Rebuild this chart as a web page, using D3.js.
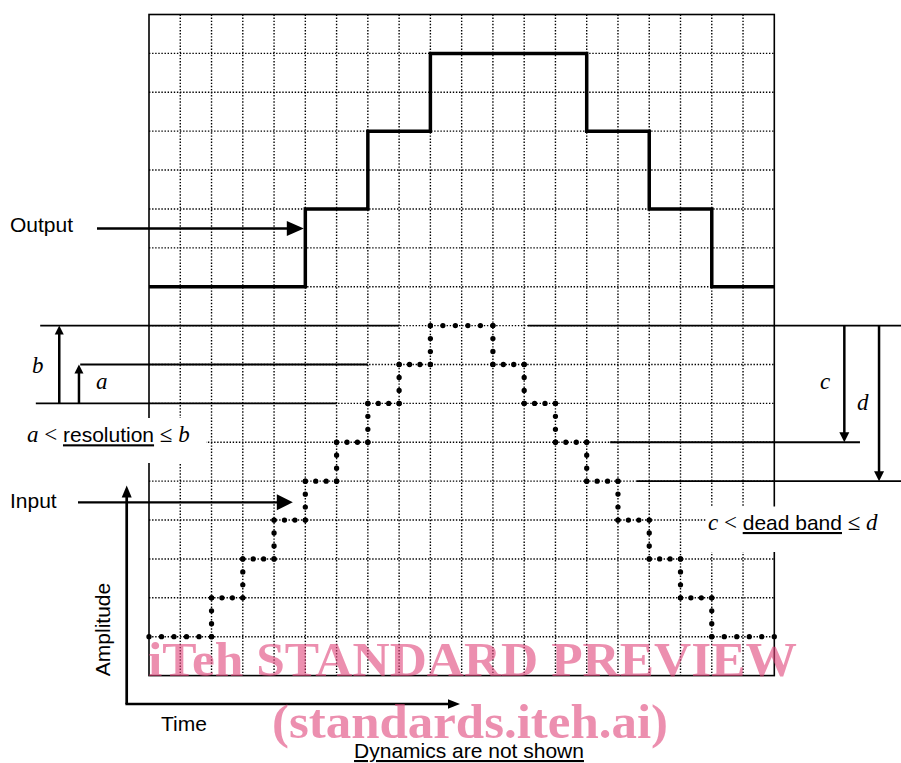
<!DOCTYPE html>
<html>
<head>
<meta charset="utf-8">
<script src="https://cdnjs.cloudflare.com/ajax/libs/d3/7.8.5/d3.min.js"></script>
<style>
body{margin:0;background:#fff;}
svg{display:block;}
.sans{font-family:"Liberation Sans",Arial,sans-serif;font-size:21px;}
.serif{font-family:"Liberation Serif","Times New Roman",serif;font-size:23px;}
.it{font-style:italic;}
</style>
</head>
<body>
<div id="chart"></div>
<script>
// grid size in time / amplitude units
var gridCols = 20
var gridRows = 17

// output steps
var outputTime = [0, 5, 7, 9, 14, 16, 18, 20]
var outputLevel = [10, 12, 14, 16, 14, 12, 10]

// input staircase
var inputTime = [0, 2, 3, 4, 5, 6, 7, 8, 9, 11, 12, 13, 14, 15, 16, 17, 18, 20]
var inputLevel = [1, 2, 3, 4, 5, 6, 7, 8, 9, 8, 7, 6, 5, 4, 3, 2, 1]

// resolution marker lines (left side)
var resLevel = [7, 8, 9]
var resFrom = [-3.62, -2.2, -3.48]
var resTo = [6, 7, 8]

// dead band marker lines (right side)
var bandLevel = [9, 6, 5]
var bandFrom = [12.12, 14.75, 15.6]
var bandTo = [24.2, 22.74, 24.2]

var w = 901
var h = 763

var svg = d3.select('#chart').append('svg')
    .attr('width', w)
    .attr('height', h)

var x = d3.scaleLinear().domain([0, gridCols]).range([149, 774.3])
var y = d3.scaleLinear().domain([0, gridRows]).range([675.6, 14.5])

// dotted grid
svg.append('g').selectAll('line')
    .data(d3.range(1, gridCols))
    .enter().append('line')
    .attr('x1', function(d){return x(d)})
    .attr('x2', function(d){return x(d)})
    .attr('y1', y(gridRows))
    .attr('y2', y(0))
    .attr('stroke', '#000')
    .attr('stroke-width', 1.4)
    .attr('stroke-dasharray', '1.4,1.7')

svg.append('g').selectAll('line')
    .data(d3.range(1, gridRows))
    .enter().append('line')
    .attr('x1', x(0))
    .attr('x2', x(gridCols))
    .attr('y1', function(d){return y(d)})
    .attr('y2', function(d){return y(d)})
    .attr('stroke', '#000')
    .attr('stroke-width', 1.4)
    .attr('stroke-dasharray', '1.4,1.7')

// frame
svg.append('rect')
    .attr('x', x(0))
    .attr('y', y(gridRows))
    .attr('width', x(gridCols) - x(0))
    .attr('height', y(0) - y(gridRows))
    .attr('fill', 'none')
    .attr('stroke', '#000')
    .attr('stroke-width', 1.6)

// output
var outPts = []
for(var i=0; i<outputLevel.length; i++){
    outPts.push([outputTime[i], outputLevel[i]])
    outPts.push([outputTime[i+1], outputLevel[i]])
}
svg.append('path')
    .attr('d', d3.line().x(function(d){return x(d[0])}).y(function(d){return y(d[1])})(outPts))
    .attr('fill', 'none')
    .attr('stroke', '#000')
    .attr('stroke-width', 3.5)

// input, drawn as round dots segment by segment
var segs = []
for(var j=0; j<inputLevel.length; j++){
    segs.push([inputTime[j], inputLevel[j], inputTime[j+1], inputLevel[j]])
    if(j+1 < inputLevel.length){
        segs.push([inputTime[j+1], inputLevel[j], inputTime[j+1], inputLevel[j+1]])
    }
}
svg.append('g').selectAll('line')
    .data(segs)
    .enter().append('line')
    .attr('x1', function(d){return x(d[0])})
    .attr('y1', function(d){return y(d[1])})
    .attr('x2', function(d){return x(d[2])})
    .attr('y2', function(d){return y(d[3])})
    .attr('stroke', '#000')
    .attr('stroke-width', 5.3)
    .attr('stroke-linecap', 'round')
    .attr('stroke-dasharray', function(d){
        var len = Math.abs(x(d[2]) - x(d[0])) + Math.abs(y(d[3]) - y(d[1]))
        var n = Math.max(1, Math.round(len/12))
        return '0,' + ((len - 0.02)/n)
    })

// white boxes behind the two formula labels
svg.append('rect').attr('x', 18).attr('y', 418).attr('width', 188).attr('height', 45).attr('fill', '#fff')
svg.append('rect').attr('x', 706).attr('y', 506.5).attr('width', 184).attr('height', 45.5).attr('fill', '#fff')

function arrow(x1, y1, x2, y2, head, half, sw){
    var dx = x2 - x1, dy = y2 - y1
    var l = Math.sqrt(dx*dx + dy*dy)
    var ux = dx/l, uy = dy/l
    var bx = x2 - ux*head, by = y2 - uy*head
    svg.append('line')
        .attr('x1', x1).attr('y1', y1)
        .attr('x2', bx + ux).attr('y2', by + uy)
        .attr('stroke', '#000')
        .attr('stroke-width', sw)
    svg.append('path')
        .attr('d', 'M' + x2 + ',' + y2 + 'L' + (bx - uy*half) + ',' + (by + ux*half) + 'L' + (bx + uy*half) + ',' + (by - ux*half) + 'Z')
        .attr('fill', '#000')
}

function hline(lv, from, to){
    svg.append('line')
        .attr('x1', x(from)).attr('x2', x(to))
        .attr('y1', y(lv)).attr('y2', y(lv))
        .attr('stroke', '#000')
        .attr('stroke-width', 1.8)
}

for(var k=0; k<resLevel.length; k++){
    hline(resLevel[k], resFrom[k], resTo[k])
}
for(var m=0; m<bandLevel.length; m++){
    hline(bandLevel[m], bandFrom[m], bandTo[m])
}

// b and a arrows (up), c and d arrows (down)
arrow(x(-2.87), y(7), x(-2.87), y(9), 9, 4.5, 2.5)
arrow(x(-2.24), y(7), x(-2.24), y(8), 9, 4.5, 2.5)
arrow(x(22.24), y(9), x(22.24), y(6), 10, 5, 2.5)
arrow(x(23.35), y(9), x(23.35), y(5), 10, 5, 2.5)

// pointers to the traces
arrow(97, 228.5, x(5) - 1.5, 228.5, 17, 7.5, 2.3)
arrow(78, 502.3, x(4.6), 502.3, 16, 8, 2.3)

// amplitude / time axes
arrow(126.7, 704, 126.7, 485.5, 12, 5, 2.7)
arrow(125.4, 704, 460, 704, 12, 4.8, 2.7)

// labels
svg.append('text').attr('class', 'sans').attr('x', 10).attr('y', 231.5).text('Output')
svg.append('text').attr('class', 'sans').attr('x', 10).attr('y', 508).text('Input')
svg.append('text').attr('class', 'sans').attr('x', 161).attr('y', 731).text('Time')
svg.append('text').attr('class', 'sans')
    .attr('transform', 'translate(110,629.5) rotate(-90)')
    .attr('text-anchor', 'middle')
    .text('Amplitude')
svg.append('text').attr('class', 'sans')
    .attr('x', 469).attr('y', 758)
    .attr('text-anchor', 'middle')
    .style('text-decoration', 'underline')
    .text('Dynamics are not shown')

svg.append('text').attr('class', 'serif it').attr('x', 32).attr('y', 372.5).text('b')
svg.append('text').attr('class', 'serif it').attr('x', 96).attr('y', 389.3).text('a')
svg.append('text').attr('class', 'serif it').attr('x', 820).attr('y', 389.3).text('c')
svg.append('text').attr('class', 'serif it').attr('x', 857).attr('y', 410).text('d')

function formula(px, py, v1, word, v2){
    var t = svg.append('text').attr('x', px).attr('y', py)
    t.append('tspan').attr('class', 'serif it').text(v1)
    t.append('tspan').attr('class', 'serif').text(' < ')
    t.append('tspan').attr('class', 'sans').style('text-decoration', 'underline').text(word)
    t.append('tspan').attr('class', 'serif').text(' \u2264 ')
    t.append('tspan').attr('class', 'serif it').text(v2)
}
formula(27, 442.3, 'a', 'resolution', 'b')
formula(708, 530, 'c', 'dead band', 'd')

// watermark
svg.append('text')
    .attr('x', 148).attr('y', 676)
    .attr('textLength', 649)
    .attr('lengthAdjust', 'spacingAndGlyphs')
    .style('font-family', '"Liberation Serif","Times New Roman",serif')
    .style('font-weight', 'bold')
    .style('font-size', '49px')
    .attr('fill', '#e0457a')
    .attr('fill-opacity', 0.6)
    .text('iTeh STANDARD PREVIEW')
svg.append('text')
    .attr('x', 272).attr('y', 738)
    .attr('textLength', 396)
    .attr('lengthAdjust', 'spacingAndGlyphs')
    .style('font-family', '"Liberation Serif","Times New Roman",serif')
    .style('font-weight', 'bold')
    .style('font-size', '49px')
    .attr('fill', '#e0457a')
    .attr('fill-opacity', 0.6)
    .text('(standards.iteh.ai)')
</script>
</body>
</html>
